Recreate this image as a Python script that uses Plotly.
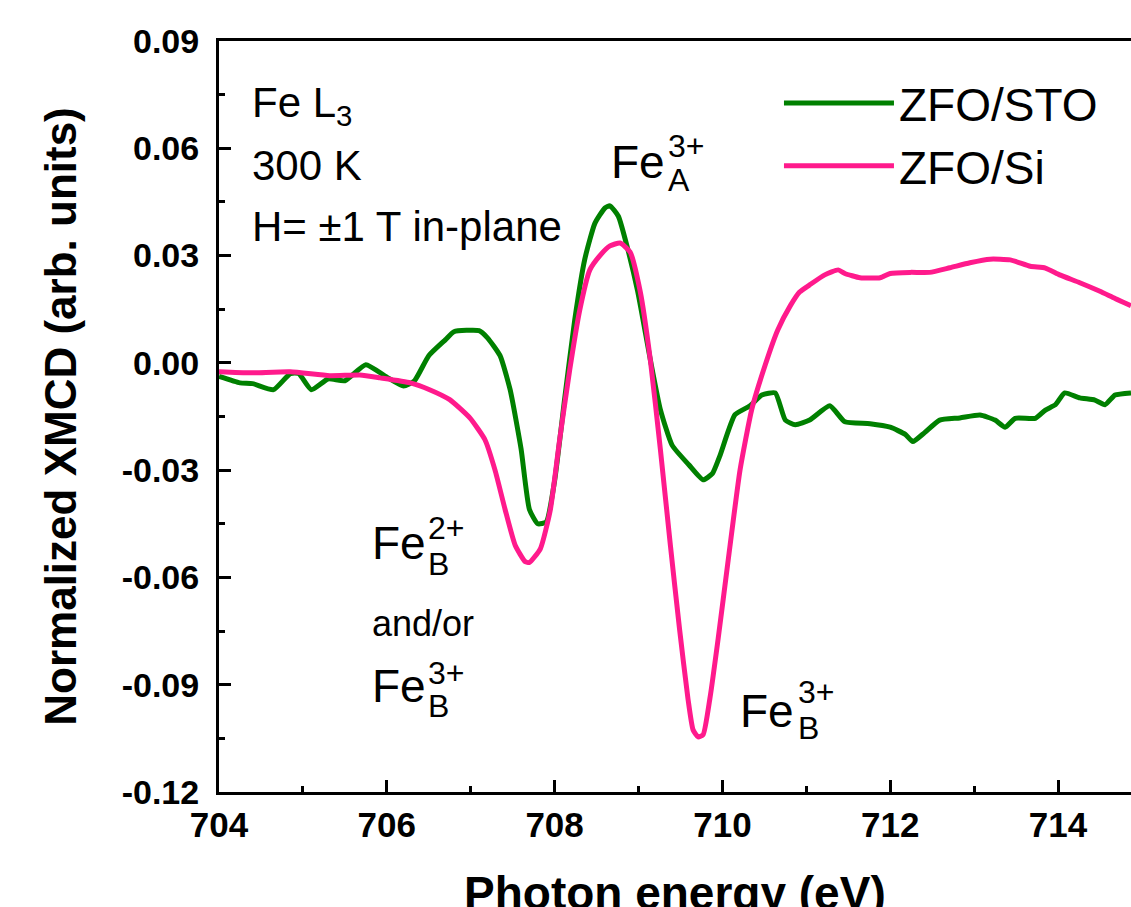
import plotly.graph_objects as go

# ---- data ----
energy_sto = [704.0, 704.25, 704.4, 704.65, 704.85, 704.95, 705.1, 705.3, 705.5, 705.75, 706.0,
              706.2, 706.33, 706.5, 706.7, 706.8, 707.1, 707.2, 707.35, 707.47, 707.6, 707.7,
              707.8, 707.9, 708.0, 708.12, 708.24, 708.36, 708.48, 708.6, 708.66, 708.76,
              708.87, 708.99, 709.14, 709.26, 709.4, 709.6, 709.77, 709.88, 709.97, 710.15,
              710.33, 710.47, 710.63, 710.75, 710.87, 711.04, 711.28, 711.46, 711.76, 712.0,
              712.18, 712.27, 712.41, 712.59, 712.83, 713.07, 713.25, 713.37, 713.49, 713.73,
              713.85, 713.97, 714.08, 714.26, 714.44, 714.56, 714.68, 714.87]
xmcd_sto = [-0.0038, -0.0056, -0.0058, -0.0075, -0.0030, -0.0030, -0.0075, -0.0045, -0.0050,
            -0.0005, -0.0040, -0.0065, -0.0050, 0.0020, 0.0065, 0.0087, 0.0090, 0.0070,
            0.0020, -0.0075, -0.0240, -0.0410, -0.0450, -0.0445, -0.0330, -0.0100, 0.0120,
            0.0290, 0.0390, 0.0433, 0.0439, 0.0410, 0.0320, 0.0200, 0.0010, -0.0130, -0.0230,
            -0.0285, -0.0327, -0.0310, -0.0260, -0.0145, -0.0120, -0.0090, -0.0084, -0.0160,
            -0.0173, -0.0160, -0.0120, -0.0165, -0.0170, -0.0180, -0.0200, -0.0220, -0.0195,
            -0.0160, -0.0154, -0.0146, -0.0160, -0.0180, -0.0155, -0.0155, -0.0132, -0.0117,
            -0.0084, -0.0098, -0.0104, -0.0117, -0.0090, -0.0084]

energy_si = [704.0, 704.37, 704.85, 705.32, 705.68, 705.92, 706.28, 706.51, 706.75, 706.99,
             707.17, 707.29, 707.41, 707.53, 707.65, 707.7, 707.83, 707.95, 708.06, 708.18,
             708.3, 708.42, 708.54, 708.66, 708.78, 708.9, 709.02, 709.14, 709.26, 709.38,
             709.49, 709.59, 709.65, 709.71, 709.77, 709.85, 709.95, 710.07, 710.21, 710.35,
             710.51, 710.66, 710.81, 710.92, 711.04, 711.22, 711.38, 711.46, 711.64, 711.88,
             712.0, 712.24, 712.47, 712.71, 712.95, 713.19, 713.43, 713.67, 713.85, 714.02,
             714.26, 714.5, 714.68, 714.87]
xmcd_si = [-0.0025, -0.0028, -0.0025, -0.0036, -0.0034, -0.0042, -0.0056, -0.0075, -0.0103,
           -0.0154, -0.0215, -0.0300, -0.0410, -0.0510, -0.0556, -0.0558, -0.0520, -0.0410,
           -0.0215, -0.0020, 0.0148, 0.0260, 0.0300, 0.0327, 0.0335, 0.0310, 0.0200, 0.0010,
           -0.0240, -0.0510, -0.0746, -0.0940, -0.1026, -0.1046, -0.1040, -0.0940, -0.0770,
           -0.0550, -0.0300, -0.0130, -0.0006, 0.0092, 0.0160, 0.0198, 0.0218, 0.0246, 0.0260,
           0.0250, 0.0238, 0.0238, 0.0250, 0.0253, 0.0253, 0.0266, 0.0280, 0.0290, 0.0288,
           0.0270, 0.0265, 0.0246, 0.0224, 0.0200, 0.0180, 0.0160]

x_ticks = [704, 706, 708, 710, 712, 714]
y_ticks = [0.09, 0.06, 0.03, 0.00, -0.03, -0.06, -0.09, -0.12]
y_ticklabels = ["0.09", "0.06", "0.03", "0.00", "-0.03", "-0.06", "-0.09", "-0.12"]
x_title = "Photon energy (eV)"
y_title = "Normalized XMCD (arb. units)"

GREEN = "#008000"
PINK = "#ff1a8c"
FONT = "Liberation Sans"

# pixel -> data helpers for text placement
def X(px):
    return 704 + (px - 219) / 83.9

def Y(py):
    return (363 - py) / 3577.0

fig = go.Figure()
fig.add_trace(go.Scatter(x=energy_sto, y=xmcd_sto, mode="lines", name="ZFO/STO",
                         line=dict(color=GREEN, width=5, shape="spline", smoothing=0.5)))
fig.add_trace(go.Scatter(x=energy_si, y=xmcd_si, mode="lines", name="ZFO/Si",
                         line=dict(color=PINK, width=5, shape="spline", smoothing=0.5)))

ann = []
def txt(text, px, py, size, xanchor="left", yanchor="middle"):
    ann.append(dict(text=text, x=X(px), y=Y(py), xref="x", yref="y", showarrow=False,
                    xanchor=xanchor, yanchor=yanchor,
                    font=dict(family=FONT, size=size, color="black")))

# upper-left info
txt("Fe L<sub>3</sub>", 250, 106, 42)
txt("300 K", 250, 166, 42)
txt("H= \u00b11 T in-plane", 250, 227, 42)

# Fe_A^3+
txt("Fe", 609, 162, 46)
txt("3+", 666, 146, 32)
txt("A", 666, 180, 32)
# Fe_B^2+ and/or Fe_B^3+
txt("Fe", 370, 543, 46)
txt("2+", 426, 528, 32)
txt("B", 426, 564, 32)
txt("and/or", 370, 624, 36)
txt("Fe", 370, 686, 46)
txt("3+", 426, 673, 32)
txt("B", 426, 706, 32)
# right Fe_B^3+
txt("Fe", 738, 711, 46)
txt("3+", 796, 692, 32)
txt("B", 796, 728, 32)

# x-axis title (placed as paper annotation so it can sit partly off the bottom edge)
ann.append(dict(text="<b>" + x_title + "</b>", x=0.5, y=-(893 - 792) / 751.0,
                xref="paper", yref="paper", showarrow=False,
                xanchor="center", yanchor="middle",
                font=dict(family=FONT, size=46, color="black")))

fig.update_layout(
    width=1131, height=907,
    margin=dict(l=219, r=0, t=41, b=115, autoexpand=False),
    paper_bgcolor="white", plot_bgcolor="white",
    showlegend=True,
    legend=dict(x=0.614, y=0.966, xanchor="left", yanchor="top",
                font=dict(family=FONT, size=46, color="black"),
                itemwidth=110, bgcolor="rgba(0,0,0,0)", tracegroupgap=0),
    annotations=ann,
    font=dict(family=FONT, color="black"),
)
fig.update_xaxes(
    range=[704, X(1131)], tickvals=x_ticks, ticktext=[str(v) for v in x_ticks],
    ticks="inside", ticklen=12, tickwidth=3, tickcolor="black",
    showline=True, linewidth=3, linecolor="black", mirror=True,
    showgrid=False, zeroline=False, automargin=False,
    tickfont=dict(family=FONT, size=35, weight="bold", color="black"),
    minor=dict(ticks="inside", ticklen=6, tickwidth=3, dtick=1, tickcolor="black", showgrid=False),
)
fig.update_yaxes(
    range=[-0.12, 0.09], tickvals=y_ticks, ticktext=y_ticklabels,
    ticks="inside", ticklen=12, tickwidth=3, tickcolor="black",
    showline=True, linewidth=3, linecolor="black", mirror=False,
    showgrid=False, zeroline=False, automargin=False,
    tickfont=dict(family=FONT, size=34, weight="bold", color="black"),
    ticklabelstandoff=10,
    minor=dict(ticks="inside", ticklen=6, tickwidth=3, dtick=0.015, tickcolor="black", showgrid=False),
    title=dict(text=y_title, font=dict(family=FONT, size=44, weight="bold"),
               standoff=32),
)

fig.write_html("out.html")
